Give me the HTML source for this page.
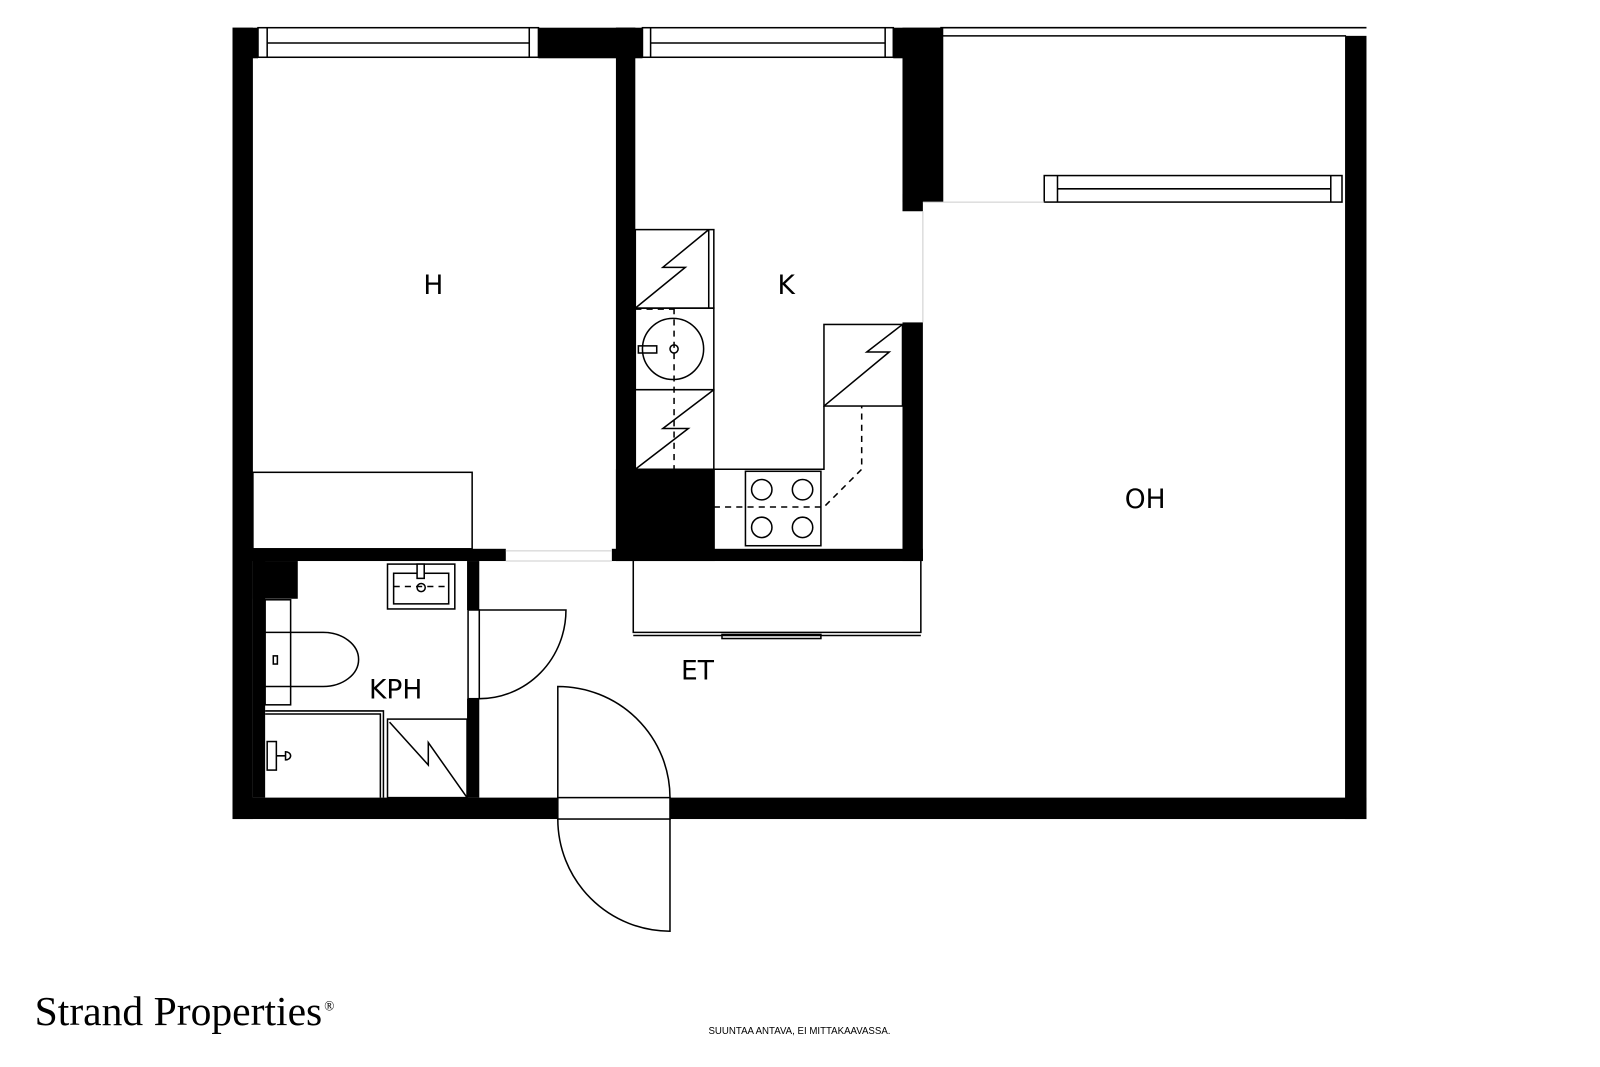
<!DOCTYPE html>
<html><head><meta charset="utf-8"><style>
html,body{margin:0;padding:0;background:#fff;width:1600px;height:1067px;overflow:hidden}
svg{display:block}
text{font-family:"DejaVu Sans","Liberation Sans",sans-serif}
</style></head><body>
<svg width="1600" height="1067" viewBox="0 0 1569 1046" xmlns="http://www.w3.org/2000/svg">
<g fill="#000">
<rect x="228" y="27" width="20" height="776"/>
<rect x="228" y="27" width="25" height="30"/>
<rect x="528" y="27" width="102" height="30"/>
<rect x="604" y="27" width="19" height="30"/>
<rect x="876" y="27" width="46" height="30"/>
<rect x="885" y="27" width="40" height="171"/>
<rect x="885" y="190" width="20" height="17"/>
<rect x="604" y="27" width="19" height="523"/>
<rect x="1319" y="35" width="21" height="768"/>
<rect x="228" y="782" width="319" height="21"/>
<rect x="657" y="782" width="683" height="21"/>
<rect x="885" y="316" width="20" height="234"/>
<rect x="228" y="538" width="268" height="12"/>
<rect x="600" y="538" width="305" height="12"/>
<rect x="604" y="460" width="97" height="90"/>
<rect x="248" y="550" width="12" height="232"/>
<rect x="248" y="550" width="44" height="37"/>
<rect x="458" y="550" width="12" height="48"/>
<rect x="458" y="685" width="12" height="97"/>
</g>
<g fill="none" stroke="#000" stroke-width="1.5">
<rect x="253" y="27" width="275" height="29"/>
<line x1="262" y1="27" x2="262" y2="56"/><line x1="519" y1="27" x2="519" y2="56"/>
<line x1="262" y1="42" x2="519" y2="42"/>
<rect x="630" y="27" width="246" height="29"/>
<line x1="638" y1="27" x2="638" y2="56"/><line x1="868" y1="27" x2="868" y2="56"/>
<line x1="638" y1="42" x2="868" y2="42"/>
<line x1="922" y1="27" x2="1340" y2="27"/>
<line x1="922" y1="35" x2="1320" y2="35"/>
<rect x="1024" y="172" width="292" height="26"/>
<line x1="1037" y1="172" x2="1037" y2="198"/><line x1="1305" y1="172" x2="1305" y2="198"/>
<line x1="1037" y1="185" x2="1305" y2="185"/>
<rect x="248" y="463" width="215" height="75"/>
<rect x="623" y="225" width="77" height="77"/>
<line x1="695" y1="225" x2="695" y2="302"/>
<polyline points="695,225 650,262 672,262 623,302"/>
<rect x="623" y="302" width="77" height="80"/>
<circle cx="660" cy="342" r="30"/>
<rect x="626" y="339" width="18" height="7"/>
<circle cx="661" cy="342" r="4"/>
<rect x="623" y="382" width="77" height="78"/>
<polyline points="700,382 650,420 675,420 623,460"/>
<line x1="661" y1="302" x2="661" y2="460" stroke-dasharray="6,5"/>
<line x1="623" y1="303" x2="661" y2="303" stroke-dasharray="6,5"/>
<rect x="808" y="318" width="77" height="80"/>
<polyline points="885,318 850,345 872,345 808,398"/>
<polyline points="700,460 808,460 808,398"/>
<rect x="731" y="462" width="74" height="73"/>
<circle cx="747" cy="480" r="10"/><circle cx="787" cy="480" r="10"/>
<circle cx="747" cy="517" r="10"/><circle cx="787" cy="517" r="10"/>
<polyline points="700,497 808,497 845,460 845,398" stroke-dasharray="6,5"/>
<polyline points="621,550 621,620 903,620 903,550"/>
<line x1="621" y1="623" x2="903" y2="623"/>
<rect x="708" y="622" width="97" height="4"/>
<rect x="380" y="553" width="66" height="44"/>
<rect x="386" y="562" width="54" height="30"/>
<rect x="409" y="553" width="7" height="14" fill="#fff"/>
<line x1="386" y1="575" x2="440" y2="575" stroke-dasharray="6,5"/>
<circle cx="413" cy="576" r="4"/>
<rect x="260" y="588" width="25" height="103"/>
<line x1="260" y1="620" x2="285" y2="620"/><line x1="260" y1="673" x2="285" y2="673"/>
<path d="M285,620 H317 A34,26 0 0 1 317,673 H285"/>
<rect x="268" y="643" width="4" height="8"/>
<polyline points="260,697 376,697 376,782"/>
<polyline points="260,700 373,700 373,782"/>
<rect x="262" y="727" width="9" height="28"/>
<path d="M271,741 H280 M280,737 a5,4 0 1 1 0,8 z"/>
<rect x="380" y="705" width="78" height="77"/>
<polyline points="382,708 420,750 420,728 458,782"/>
<rect x="459" y="598" width="11" height="87" fill="#fff"/>
<path d="M470,598 H555 A85,87 0 0 1 470,685"/>
<rect x="547" y="782" width="110" height="21" fill="#fff"/>
<path d="M547,782 V673 A110,109 0 0 1 657,782"/>
<path d="M657,803 V913 A110,110 0 0 1 547,803"/>
</g>
<g stroke="#ccc" stroke-width="1" fill="none">
<line x1="496" y1="540" x2="600" y2="540"/><line x1="496" y1="550" x2="600" y2="550"/>
<line x1="905" y1="207" x2="905" y2="316"/>
<line x1="905" y1="198" x2="1024" y2="198"/>
</g>
<g font-size="26" fill="#000" text-anchor="middle">
<text x="425" y="288">H</text>
<text x="771" y="288">K</text>
<text x="1123" y="498">OH</text>
<text x="684" y="666">ET</text>
<text x="388" y="685">KPH</text>
</g>
<text x="34" y="1005" font-size="40" style="font-family:'Liberation Serif',serif" textLength="282" lengthAdjust="spacingAndGlyphs">Strand Properties</text>
<text x="318" y="991" style="font-family:'Liberation Serif',serif" font-size="13">®</text>
<text x="784" y="1014" text-anchor="middle" font-size="9.5" style="font-family:'Liberation Sans',sans-serif">SUUNTAA ANTAVA, EI MITTAKAAVASSA.</text>
</svg>
</body></html>
